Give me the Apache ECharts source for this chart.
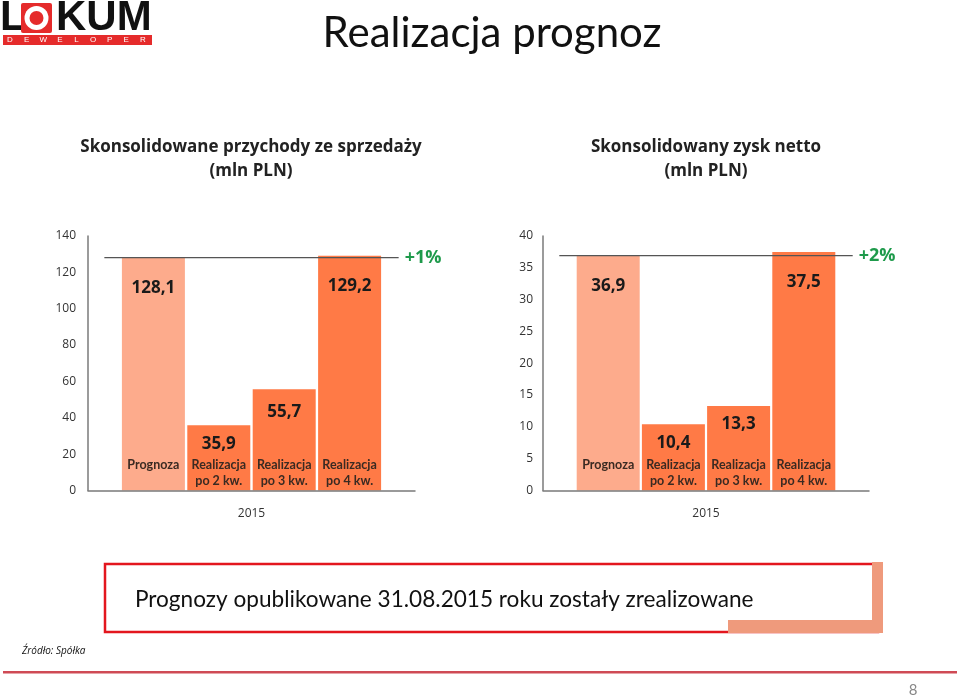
<!DOCTYPE html>
<html>
<head>
<meta charset="utf-8">
<script src="https://cdn.jsdelivr.net/npm/echarts@6/dist/echarts.min.js"></script>
<style>
html,body{margin:0;padding:0;background:#fff;}
#chart{width:960px;height:697px;}
</style>
</head>
<body>
<div id="chart"></div>
<script>
// ---- data ----
const categories = ['Prognoza', 'Realizacja\npo 2 kw.', 'Realizacja\npo 3 kw.', 'Realizacja\npo 4 kw.'];
const revenueValues = [128.1, 35.9, 55.7, 129.2];
const profitValues = [36.9, 10.4, 13.3, 37.5];
const yearLabel = '2015';
const revenueTicks = { min: 0, max: 140, interval: 20 };
const profitTicks = { min: 0, max: 40, interval: 5 };
const pageTitle = 'Realizacja prognoz';
const leftTitle = 'Skonsolidowane przychody ze sprzedaży\n(mln PLN)';
const rightTitle = 'Skonsolidowany zysk netto\n(mln PLN)';
const noteText = 'Prognozy opublikowane 31.08.2015 roku zostały zrealizowane';
const sourceText = 'Źródło: Spółka';
const pageNumber = '8';

// ---- styling ----
const FONT = "'Open Sans', sans-serif";
const LIGHT = '#FDAB8C';
const DARK = '#FF7A46';
const GREEN = '#1E9A4B';

const axisCats = [''].concat(categories, ['']);

function fmt(v) { return String(v).replace('.', ','); }

function barSeries(values, axisIdx, ticks) {
  const data = ['-'].concat(values.map((v, i) => ({
    value: v,
    itemStyle: { color: i === 0 ? LIGHT : DARK },
    label: { distance: v / ticks.max > 0.5 ? 22 : (v / ticks.max > 0.35 ? 14 : 10) }
  })), ['-']);
  return {
    type: 'bar',
    xAxisIndex: axisIdx, yAxisIndex: axisIdx,
    barWidth: 63,
    data: data,
    label: {
      show: true, position: 'insideTop',
      formatter: p => fmt(p.value),
      fontFamily: FONT, fontWeight: 'bold', fontSize: 17, color: '#1a1a1a'
    }
  };
}

function refLine(values, axisIdx) {
  const pct = Math.round((values[values.length - 1] - values[0]) / values[0] * 100);
  return {
    type: 'line', silent: true,
    xAxisIndex: axisIdx + 2, yAxisIndex: axisIdx,
    symbol: 'none', z: 4,
    lineStyle: { color: '#555', width: 1.3 },
    data: [[0.25, values[0]], [4.75, values[0]]],
    endLabel: {
      show: true, distance: 6,
      formatter: (pct >= 0 ? '+' : '') + pct + '%',
      color: GREEN, fontFamily: FONT, fontSize: 18, fontWeight: 'bold'
    }
  };
}

function xAxisCfg(gridIdx) {
  return {
    type: 'category', gridIndex: gridIdx, data: axisCats, boundaryGap: false, z: 5,
    axisLine: { lineStyle: { color: '#7a7a7a', width: 1.5 } },
    axisTick: { show: false },
    axisLabel: {
      inside: true, interval: 0, margin: 34, verticalAlign: 'top',
      fontFamily: "'Lato', sans-serif", fontWeight: 'bold', fontSize: 12.5, lineHeight: 16,
      color: '#3a2a22', align: 'center'
    },
    name: yearLabel, nameLocation: 'middle', nameGap: 17,
    nameTextStyle: { fontFamily: FONT, fontSize: 12, color: '#333' }
  };
}

function hiddenX(gridIdx) {
  return { type: 'value', gridIndex: gridIdx, min: 0, max: axisCats.length - 1, show: false };
}

function yAxisCfg(gridIdx, t, margin) {
  return {
    type: 'value', gridIndex: gridIdx, min: t.min, max: t.max, interval: t.interval,
    axisLine: { show: true, lineStyle: { color: '#7a7a7a', width: 1.5 } },
    axisTick: { show: false },
    splitLine: { show: false },
    axisLabel: { margin: margin, fontFamily: FONT, fontSize: 12, color: '#333' }
  };
}

const logoLetters = 'DEWELOPER'.split('');

const chart = echarts.init(document.getElementById('chart'), null, { renderer: 'canvas' });
chart.setOption({
  animation: false,
  backgroundColor: '#fff',
  grid: [
    { left: 88, top: 236, width: 327, height: 254.5 },
    { left: 543, top: 236, width: 326, height: 254.5 }
  ],
  xAxis: [xAxisCfg(0), xAxisCfg(1), hiddenX(0), hiddenX(1)],
  yAxis: [yAxisCfg(0, revenueTicks, 12), yAxisCfg(1, profitTicks, 10)],
  series: [
    barSeries(revenueValues, 0, revenueTicks), barSeries(profitValues, 1, profitTicks),
    refLine(revenueValues, 0), refLine(profitValues, 1)
  ],
  graphic: [
    // logo
    { type: 'text', left: 0, top: -3, style: { text: 'L', font: "bold 42px 'Liberation Sans'", fill: '#111' } },
    { type: 'rect', shape: { x: 21, y: 3, width: 31, height: 30, r: 2 }, style: { fill: '#E52B2B' } },
    { type: 'circle', shape: { cx: 36.5, cy: 18, r: 12 }, style: { fill: '#fff' } },
    { type: 'circle', shape: { cx: 36.5, cy: 18, r: 7 }, style: { fill: '#E52B2B' } },
    { type: 'text', left: 56, top: -3, style: { text: 'KUM', font: "bold 42px 'Liberation Sans'", fill: '#111' } },
    { type: 'rect', shape: { x: 3, y: 35, width: 149, height: 10 }, style: { fill: '#E52B2B' } }
  ].concat(logoLetters.map((ch, i) => ({
    type: 'text', x: 10 + i * 16.6, y: 40,
    style: { text: ch, font: "8px 'Liberation Sans'", fill: '#fff', align: 'center', verticalAlign: 'middle' }
  }))).concat([
    { type: 'text', x: 492, y: 33, style: { text: pageTitle, font: "42px 'Lato'", fill: '#111', align: 'center', verticalAlign: 'middle' } },
    { type: 'text', x: 251, y: 159, style: { text: leftTitle, font: "bold 17px 'Open Sans'", lineHeight: 24, fill: '#222', align: 'center', verticalAlign: 'middle' } },
    { type: 'text', x: 706, y: 159, style: { text: rightTitle, font: "bold 17px 'Open Sans'", lineHeight: 24, fill: '#222', align: 'center', verticalAlign: 'middle' } },
    // note box
    { type: 'rect', shape: { x: 105, y: 564, width: 773, height: 68 }, style: { fill: 'none', stroke: '#E3161E', lineWidth: 2.5 } },
    { type: 'rect', shape: { x: 872, y: 562, width: 11, height: 71 }, style: { fill: '#EF9A7C' } },
    { type: 'rect', shape: { x: 728, y: 620, width: 155, height: 13 }, style: { fill: '#EF9A7C' } },
    { type: 'text', x: 135, y: 600, style: { text: noteText, font: "22.6px 'Lato'", fill: '#111', align: 'left', verticalAlign: 'middle' } },
    { type: 'text', x: 22, y: 651, style: { text: sourceText, font: "italic 10px 'Open Sans'", fill: '#111', align: 'left', verticalAlign: 'middle' } },
    { type: 'rect', shape: { x: 3, y: 671, width: 954, height: 2.5 }, style: { fill: '#CF4A55' } },
    { type: 'text', x: 913, y: 690, style: { text: pageNumber, font: "15px 'Lato'", fill: '#888', align: 'center', verticalAlign: 'middle' } }
  ])
});
</script>
</body>
</html>
